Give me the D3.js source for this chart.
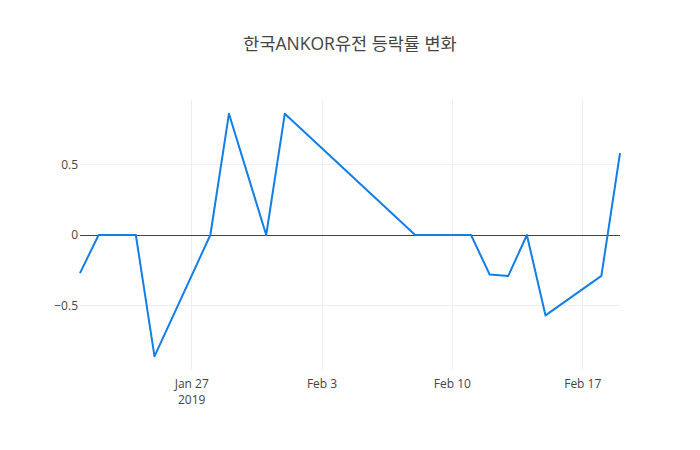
<!DOCTYPE html>
<html>
<head>
<meta charset="utf-8">
<script src="https://cdn.jsdelivr.net/npm/d3@7"></script>
<style>
  html, body { margin: 0; padding: 0; background: #fff; }
  svg { display: block; }
  text { font-family: "Open Sans", "Noto Sans CJK KR", sans-serif; }
</style>
</head>
<body>
<div id="chart"></div>
<script>
const title = "한국ANKOR유전 등락률 변화";
const dates = ["2019-01-21","2019-01-22","2019-01-23","2019-01-24","2019-01-25","2019-01-28","2019-01-29","2019-01-31","2019-02-01","2019-02-08","2019-02-11","2019-02-12","2019-02-13","2019-02-14","2019-02-15","2019-02-18","2019-02-19"];
const changes = [-0.27, 0, 0, 0, -0.86, 0, 0.86, 0, 0.86, 0, 0, -0.28, -0.29, 0, -0.57, -0.29, 0.58];
const yTicks = [-0.5, 0, 0.5];
const yTickLabels = ["−0.5", "0", "0.5"];
const xTicks = ["2019-01-27", "2019-02-03", "2019-02-10", "2019-02-17"];
const xTickLabels = [["Jan 27", "2019"], ["Feb 3"], ["Feb 10"], ["Feb 17"]];

const W = 700, H = 450;
const m = {l: 80, r: 80, t: 100, b: 80};
const parse = d3.utcParse("%Y-%m-%d");
const data = dates.map((d, i) => ({date: parse(d), v: changes[i]}));

const svg = d3.select("#chart").append("svg").attr("width", W).attr("height", H);

const x = d3.scaleUtc()
  .domain(d3.extent(data, d => d.date))
  .range([m.l, W - m.r]);
const y = d3.scaleLinear()
  .domain([-0.957, 0.957])
  .range([H - m.b, m.t]);

// grid lines
svg.append("g").attr("shape-rendering", "crispEdges").selectAll("line").data(xTicks).join("line")
  .attr("x1", d => x(parse(d))).attr("x2", d => x(parse(d)))
  .attr("y1", m.t).attr("y2", H - m.b)
  .attr("stroke", "#eee").attr("stroke-width", 1);
svg.append("g").attr("shape-rendering", "crispEdges").selectAll("line").data(yTicks.filter(t => t !== 0)).join("line")
  .attr("x1", m.l).attr("x2", W - m.r)
  .attr("y1", d => y(d)).attr("y2", d => y(d))
  .attr("stroke", "#eee").attr("stroke-width", 1);

// zero line
svg.append("line")
  .attr("shape-rendering", "crispEdges")
  .attr("x1", m.l).attr("x2", W - m.r)
  .attr("y1", y(0) + 0.5).attr("y2", y(0) + 0.5)
  .attr("stroke", "#444").attr("stroke-width", 1);

// y tick labels
svg.append("g").selectAll("text").data(yTicks).join("text")
  .attr("x", m.l - 2).attr("y", d => y(d)).attr("dy", "0.35em")
  .attr("text-anchor", "end").attr("font-size", 12).attr("fill", "#444")
  .text((d, i) => yTickLabels[i]);

// x tick labels
const xl = svg.append("g").selectAll("text").data(xTicks).join("text")
  .attr("x", d => x(parse(d))).attr("y", H - m.b + 18)
  .attr("text-anchor", "middle").attr("font-size", 12).attr("fill", "#444");
xl.each(function(d, i) {
  const t = d3.select(this);
  xTickLabels[i].forEach((s, j) => {
    t.append("tspan").attr("x", x(parse(d))).attr("dy", j === 0 ? 0 : 15.5).text(s);
  });
});

// line
const line = d3.line().x(d => x(d.date)).y(d => y(d.v));
svg.append("path").datum(data)
  .attr("d", line)
  .attr("fill", "none")
  .attr("stroke", "#127ee6")
  .attr("stroke-width", 2)
  .attr("stroke-linejoin", "round");

// title
svg.append("text")
  .attr("x", W / 2).attr("y", 50)
  .attr("text-anchor", "middle")
  .attr("font-size", 17.5).attr("fill", "#444")
  .text(title);
</script>
</body>
</html>
